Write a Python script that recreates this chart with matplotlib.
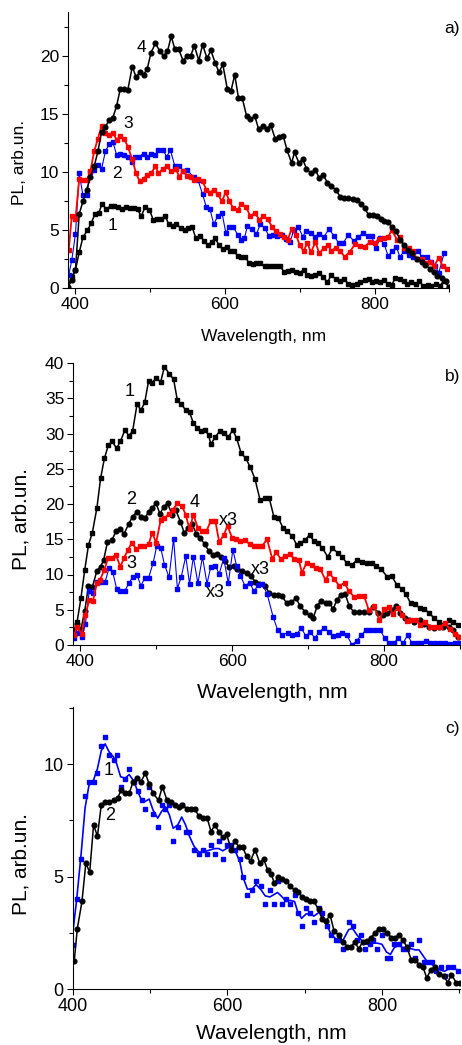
import numpy as np
import matplotlib
matplotlib.use('Agg')
import matplotlib.pyplot as plt
from matplotlib.ticker import MultipleLocator

plt.rcParams['font.family'] = ['Liberation Sans', 'DejaVu Sans']

# ---- panel a) ----
a1_wl = [389, 395, 400, 405, 410, 416, 421, 426, 431, 436, 441, 447, 452, 457, 462, 467, 473, 478, 483, 488,
         493, 499, 504, 509, 514, 520, 525, 530, 535, 541, 546, 551, 556, 561, 566, 572, 577, 582, 587, 592,
         597, 602, 607, 612, 617, 622, 627, 632, 637, 642, 647, 653, 658, 663, 668, 674, 679, 684, 689, 695,
         700, 705, 710, 715, 721, 726, 731, 737, 742, 748, 754, 759, 765, 770, 776, 781, 787, 792, 797, 802,
         807, 813, 818, 823, 828, 834, 840, 844, 849, 855, 860, 865, 871, 876, 882, 887, 893, 899]
a1_pl = [0.0, 1.0, 1.6, 3.1, 4.4, 5.0, 5.6, 6.4, 6.5, 7.3, 6.8, 7.1, 7.1, 7.0, 6.8, 7.0, 6.9, 6.9, 6.8, 6.2,
         7.0, 6.75, 5.9, 6.0, 6.0, 6.2, 5.5, 5.4, 5.5, 5.2, 5.0, 5.2, 5.3, 4.3, 4.5, 4.1, 3.7, 4.0, 4.3, 3.7,
         3.4, 3.6, 3.25, 3.2, 2.8, 2.7, 2.7, 2.2, 2.1, 2.2, 2.2, 1.9, 1.9, 1.9, 1.9, 1.9, 1.4, 1.5, 1.6, 1.4,
         1.3, 1.6, 1.15, 1.1, 1.15, 1.3, 1.0, 0.5, 1.15, 0.8, 0.6, 0.8, 0.4, 0.3, 0.4, 0.5, 0.7, 0.8, 0.5, 0.6,
         0.5, 0.7, 0.35, 0.3, 0.9, 0.8, 0.6, 0.4, 0.5, 0.35, 0.6, 0.2, 0.3, 0.2, 0.4, 0.2, 0.65, 0.15]

a2_wl = [391, 395, 400, 405, 410, 415, 420, 425, 430, 435, 440, 445, 450, 455, 460, 465, 470, 475, 480, 485,
         491, 496, 501, 507, 511, 517, 522, 527, 533, 539, 544, 549, 558, 564, 570, 575, 580, 585, 590, 596,
         601, 606, 611, 617, 622, 626, 630, 636, 642, 647, 653, 659, 664, 670, 676, 681, 687, 692, 698, 704,
         708, 715, 720, 726, 732, 739, 746, 752, 758, 765, 772, 778, 785, 791, 796, 802, 807, 813, 818, 824,
         829, 834, 840, 846, 852, 858, 864, 870, 876, 881, 886, 893]
a2_pl = [1.15, 2.4, 4.7, 9.9, 8.0, 8.0, 10.0, 10.2, 10.6, 10.3, 11.8, 12.4, 12.6, 11.5, 11.6, 11.5, 11.35, 10.9, 11.35, 11.35,
         11.6, 11.3, 11.6, 11.5, 11.9, 11.9, 11.35, 11.9, 10.5, 10.5, 10.1, 10.2, 9.6, 9.3, 8.1, 7.0, 6.8, 5.5, 6.2, 6.5,
         4.8, 5.3, 5.3, 4.6, 4.2, 4.3, 5.4, 5.1, 4.65, 5.5, 5.2, 4.5, 4.6, 4.5, 4.6, 4.25, 4.0, 5.0, 5.3, 4.45,
         4.9, 4.75, 4.45, 4.7, 4.4, 5.1, 4.5, 3.9, 3.9, 4.6, 4.1, 4.4, 4.8, 4.5, 4.5, 3.45, 4.3, 3.8, 2.8, 3.2,
         3.6, 2.7, 3.25, 2.9, 2.7, 3.2, 2.7, 2.7, 2.3, 1.9, 1.35, 3.0]

a3_wl = [391, 395, 400, 405, 410, 415, 420, 425, 430, 435, 440, 445, 450, 455, 460, 465, 470, 476, 481, 486,
         491, 496, 501, 507, 511, 517, 522, 528, 534, 539, 544, 549, 554, 559, 564, 570, 575, 580, 585, 590,
         596, 601, 606, 611, 617, 622, 628, 634, 640, 646, 651, 657, 663, 668, 673, 679, 684, 689, 695, 700,
         705, 710, 715, 721, 726, 732, 738, 742, 748, 754, 760, 767, 774, 780, 787, 794, 800, 806, 812, 818,
         823, 830, 834, 840, 846, 851, 857, 863, 869, 874, 880, 886, 891, 897]
a3_pl = [3.3, 6.2, 5.95, 9.4, 9.3, 9.3, 10.1, 11.8, 12.9, 14.0, 13.4, 13.2, 13.4, 12.8, 13.1, 12.9, 12.2, 11.1, 9.9, 9.2,
         9.4, 9.8, 9.9, 10.5, 9.9, 10.3, 10.5, 10.1, 10.3, 9.6, 10.1, 9.7, 9.6, 9.3, 9.4, 9.2, 8.5, 8.25, 8.5, 8.1,
         7.5, 8.3, 7.5, 6.9, 6.75, 7.3, 7.0, 6.2, 6.5, 5.9, 6.2, 5.95, 5.3, 4.9, 4.65, 4.45, 4.2, 5.1, 4.6, 3.7,
         3.2, 3.9, 3.1, 4.0, 3.0, 3.45, 3.7, 3.25, 3.45, 3.25, 2.7, 3.15, 3.8, 3.65, 3.6, 4.0, 3.9, 4.25, 4.3, 4.4,
         5.0, 4.2, 4.4, 3.45, 3.5, 3.2, 2.5, 2.5, 2.2, 2.3, 1.95, 2.65, 1.9, 1.7]

a4_wl = [390, 395, 400, 405, 410, 415, 420, 425, 430, 435, 440, 445, 450, 455, 460, 465, 470, 476, 481, 486,
         491, 496, 501, 507, 513, 518, 523, 528, 533, 538, 544, 549, 554, 559, 565, 570, 576, 581, 587, 592,
         597, 603, 608, 613, 618, 623, 629, 634, 640, 645, 651, 656, 661, 667, 672, 678, 683, 689, 693, 699,
         704, 709, 715, 721, 726, 731, 737, 742, 748, 754, 759, 765, 771, 776, 782, 787, 792, 798, 803, 808,
         813, 818, 823, 829, 834, 840, 845, 850, 857, 863, 868, 874, 879, 884, 890, 895, 899]
a4_pl = [0.1, 0.7, 1.6, 6.4, 7.5, 8.5, 9.6, 10.5, 11.8, 13.5, 13.9, 14.5, 14.7, 15.7, 17.2, 17.2, 17.1, 19.1, 18.2, 18.6,
         18.4, 18.9, 20.3, 21.1, 20.4, 20.0, 20.4, 21.7, 20.6, 20.6, 19.6, 20.0, 20.0, 20.9, 19.6, 21.0, 19.8, 20.5, 19.4, 18.6,
         19.3, 17.2, 17.0, 18.4, 16.4, 16.4, 14.8, 14.6, 14.8, 13.7, 14.0, 13.7, 14.1, 12.9, 13.0, 13.1, 11.9, 10.8, 11.7, 10.8,
         11.1, 10.3, 9.9, 10.2, 9.5, 9.8, 9.1, 8.8, 8.5, 7.9, 7.8, 7.8, 7.7, 7.6, 7.3, 6.9, 6.3, 6.3, 6.2, 6.0,
         5.8, 5.7, 5.3, 4.9, 4.2, 3.7, 3.3, 3.0, 2.5, 2.3, 2.0, 1.7, 1.4, 1.1, 0.9, 0.6, 0.1]

# ---- panel b) ----
b1_wl = [392, 396, 401, 406, 411, 416, 422, 427, 432, 437, 442, 448, 453, 459, 464, 469, 475, 480, 485, 490,
         495, 500, 506, 511, 517, 523, 528, 533, 539, 544, 549, 554, 559, 564, 569, 572, 578, 584, 590, 595,
         601, 606, 612, 618, 624, 630, 637, 643, 649, 655, 661, 667, 672, 679, 685, 690, 696, 702, 708, 713,
         719, 726, 732, 739, 745, 751, 758, 764, 771, 777, 784, 790, 796, 804, 810, 817, 823, 829, 835, 841,
         847, 853, 859, 866, 873, 878, 885, 891, 898]
b1_pl = [2.1, 3.3, 6.6, 10.6, 14.2, 15.9, 19.4, 23.7, 26.5, 28.3, 28.9, 27.9, 28.9, 30.5, 29.7, 30.3, 34.2, 33.3, 34.4, 37.4,
         37.2, 37.9, 37.3, 39.5, 38.5, 37.7, 34.7, 34.2, 33.3, 33.0, 31.5, 30.8, 30.3, 30.5, 29.8, 28.5, 29.5, 30.4, 30.05, 29.5,
         30.5, 29.3, 27.2, 26.5, 25.2, 23.6, 20.5, 20.8, 20.8, 18.2, 18.0, 16.6, 16.1, 15.5, 14.2, 14.5, 14.9, 15.6, 14.7, 14.5,
         13.7, 12.5, 13.7, 13.1, 12.5, 11.6, 11.4, 12.0, 11.8, 11.7, 11.6, 11.2, 10.8, 9.7, 9.8, 8.5, 8.0, 7.2, 5.9, 5.8,
         5.2, 5.1, 4.6, 3.8, 3.2, 2.8, 3.5, 3.2, 2.8]

b2_wl = [392, 396, 401, 406, 411, 416, 422, 427, 431, 436, 442, 447, 453, 458, 464, 469, 475, 480, 485, 490,
         495, 500, 505, 510, 515, 521, 526, 532, 537, 542, 547, 553, 558, 564, 569, 575, 580, 585, 591, 596,
         602, 607, 613, 619, 625, 630, 636, 643, 649, 655, 661, 666, 672, 678, 684, 690, 696, 702, 707, 712,
         717, 723, 728, 733, 738, 743, 749, 754, 760, 767, 774, 780, 786, 792, 798, 804, 810, 816, 821, 828,
         833, 840, 847, 853, 859, 866, 872, 878, 885, 891, 898]
b2_pl = [1.4, 3.0, 2.2, 4.8, 8.4, 8.2, 10.5, 11.1, 12.1, 14.6, 14.9, 16.1, 16.4, 15.8, 17.2, 18.2, 18.9, 18.2, 18.0, 18.8,
         19.5, 20.1, 18.6, 19.6, 20.1, 18.5, 19.1, 17.5, 15.9, 16.6, 17.2, 15.8, 15.2, 14.3, 13.4, 12.7, 12.9, 12.5, 11.9, 11.0,
         11.2, 10.8, 10.5, 10.2, 9.8, 9.0, 8.7, 8.4, 7.4, 7.1, 7.1, 6.9, 5.9, 6.1, 6.6, 5.5, 4.7, 4.2, 3.9, 5.5,
         6.3, 5.9, 6.0, 5.1, 6.4, 7.1, 7.2, 5.6, 4.7, 4.7, 4.7, 4.7, 5.4, 4.6, 4.3, 4.5, 5.0, 5.5, 4.5, 3.8,
         3.6, 3.2, 3.6, 3.0, 2.5, 2.4, 2.5, 2.6, 2.6, 2.1, 1.2]

b3_wl = [392, 396, 402, 407, 412, 417, 422, 427, 433, 438, 443, 448, 453, 459, 464, 469, 475, 480, 485, 490,
         496, 501, 506, 511, 517, 523, 528, 533, 539, 544, 549, 555, 561, 567, 572, 578, 583, 589, 595, 601,
         606, 611, 617, 623, 629, 634, 640, 646, 654, 660, 666, 673, 679, 685, 691, 697, 703, 709, 715, 721,
         727, 733, 739, 745, 751, 758, 764, 770, 776, 782, 788, 795, 801, 807, 813, 819, 825, 831, 837, 843,
         849, 855, 861, 867, 874, 880, 887, 893, 900]
b3_pl = [0.95, 1.65, 1.2, 3.0, 7.7, 7.4, 9.0, 9.0, 9.0, 10.9, 10.3, 8.0, 7.7, 7.7, 8.75, 9.6, 9.9, 8.4, 9.5, 9.5,
         11.6, 14.1, 13.8, 11.4, 9.6, 15.1, 8.0, 9.6, 12.6, 8.7, 12.5, 8.75, 12.5, 8.7, 11.1, 11.2, 10.1, 12.3, 8.75, 13.5,
         11.2, 9.8, 8.4, 8.85, 7.6, 8.5, 8.6, 7.3, 4.0, 2.1, 1.4, 1.75, 1.4, 1.5, 2.4, 1.3, 1.8, 1.0, 1.9, 2.4,
         1.9, 1.3, 1.4, 1.65, 1.4, 0.0, 0.6, 1.4, 2.1, 2.1, 2.1, 2.1, 0.95, 0.25, 0.35, 0.95, 0.25, 1.4, 0.25, 0.25,
         0.35, 0.6, 0.35, 0.35, 0.35, 0.25, 0.1, 0.35, 0.35]

b4_wl = [392, 396, 402, 407, 412, 417, 422, 426, 432, 437, 442, 447, 453, 458, 463, 468, 474, 479, 484, 490,
         495, 500, 506, 511, 517, 522, 528, 534, 539, 544, 549, 555, 560, 566, 572, 578, 583, 589, 594, 600,
         605, 611, 617, 623, 629, 634, 640, 646, 653, 658, 664, 670, 676, 682, 688, 692, 698, 705, 711, 716,
         723, 728, 734, 741, 748, 754, 761, 767, 774, 780, 787, 794, 800, 806, 812, 818, 824, 830, 836, 842,
         848, 854, 861, 867, 874, 880, 887, 894, 899]
b4_pl = [1.4, 2.6, 1.6, 4.3, 6.4, 6.3, 8.75, 9.2, 10.7, 12.4, 12.4, 12.8, 11.1, 12.4, 13.5, 14.5, 13.6, 14.0, 14.0, 14.3,
         15.9, 14.5, 17.7, 18.0, 18.6, 19.2, 20.1, 19.7, 18.5, 16.4, 18.5, 16.6, 16.2, 16.1, 17.6, 17.6, 14.6, 15.6, 16.9, 15.2,
         15.0, 14.7, 14.9, 14.3, 14.1, 14.1, 14.1, 15.0, 12.2, 13.2, 12.2, 12.6, 12.9, 12.2, 12.0, 10.2, 11.7, 11.4, 10.9, 10.8,
         9.2, 10.2, 9.4, 8.4, 8.8, 7.6, 6.8, 6.9, 6.9, 4.9, 5.5, 3.5, 5.1, 5.4, 4.4, 5.3, 4.2, 3.4, 3.6, 3.6,
         2.9, 3.2, 2.6, 2.6, 2.5, 3.1, 2.2, 1.6, 1.2]

# ---- panel c) ----
c1_wl = [400, 405, 411, 416, 421, 427, 432, 437, 442, 447, 453, 457, 462, 468, 473, 479, 484, 489, 494, 499,
         504, 510, 515, 520, 525, 530, 536, 541, 546, 551, 557, 563, 568, 574, 579, 584, 589, 594, 599, 605,
         610, 616, 620, 626, 632, 637, 643, 649, 655, 660, 665, 671, 676, 681, 687, 691, 696, 702, 707, 712,
         718, 723, 729, 734, 740, 745, 750, 757, 762, 768, 773, 778, 784, 789, 794, 800, 806, 811, 816, 822,
         827, 832, 838, 843, 848, 854, 859, 865, 870, 876, 881, 886, 892, 898]
c1_pl = [1.97, 4.0, 5.8, 8.6, 9.2, 9.2, 9.6, 10.8, 11.2, 10.4, 10.2, 10.4, 9.0, 9.35, 9.8, 9.2, 8.8, 8.4, 8.0, 9.0,
         7.8, 7.2, 8.2, 8.0, 8.2, 6.6, 7.2, 8.2, 7.0, 7.0, 6.2, 6.0, 6.2, 6.0, 6.4, 6.0, 6.6, 5.8, 6.4, 6.4,
         6.2, 5.8, 5.0, 4.2, 4.4, 4.8, 4.6, 3.8, 4.4, 3.8, 4.8, 3.8, 4.0, 3.8, 4.2, 3.4, 2.8, 3.6, 3.4, 3.0,
         3.6, 3.4, 2.8, 2.4, 2.2, 2.2, 1.8, 3.0, 2.8, 2.2, 2.4, 1.8, 2.0, 2.2, 1.8, 2.4, 1.4, 1.4, 2.0, 2.0,
         1.8, 1.8, 2.0, 1.4, 2.2, 1.2, 1.2, 1.2, 0.8, 1.0, 0.6, 1.0, 1.0, 0.8]

c2_wl = [402, 406, 412, 417, 422, 427, 432, 437, 442, 447, 453, 458, 463, 468, 473, 478, 483, 488, 494, 499,
         504, 511, 516, 522, 527, 532, 537, 542, 548, 553, 558, 563, 568, 574, 579, 584, 589, 594, 599, 605,
         610, 615, 620, 625, 630, 636, 642, 647, 652, 657, 661, 666, 671, 676, 681, 687, 692, 697, 702, 707,
         712, 718, 723, 728, 733, 738, 744, 750, 755, 760, 765, 770, 775, 781, 786, 791, 796, 801, 807, 812,
         817, 822, 827, 832, 838, 843, 848, 853, 858, 863, 869, 874, 880, 885, 890, 896, 901]
c2_pl = [1.27, 2.7, 3.9, 5.6, 5.2, 7.3, 6.8, 8.2, 8.3, 8.3, 8.4, 8.5, 8.85, 8.7, 8.7, 9.2, 9.4, 9.2, 9.6, 9.1,
         8.7, 8.4, 9.0, 8.4, 8.3, 8.2, 8.1, 8.2, 8.0, 8.0, 8.0, 7.7, 7.6, 7.6, 7.0, 7.3, 7.0, 6.75, 6.9, 6.2,
         6.6, 6.3, 6.3, 5.9, 5.7, 6.2, 5.6, 5.8, 5.3, 5.1, 4.7, 5.0, 4.9, 4.8, 4.6, 4.4, 4.3, 4.1, 4.0, 3.9,
         3.9, 3.55, 3.1, 3.05, 3.3, 2.6, 2.4, 2.1, 1.9, 1.9, 2.1, 1.8, 2.1, 2.15, 2.3, 2.5, 2.7, 2.7, 2.5, 2.3,
         2.3, 2.4, 2.2, 1.9, 1.3, 1.3, 1.1, 1.0, 0.5, 0.85, 1.0, 0.7, 0.6, 0.3, 0.65, 0.3, 0.27]

W, H = 462, 1045
fig = plt.figure(figsize=(W / 100, H / 100), dpi=100)


def make_axes(l, r, b, t):
    ax = fig.add_axes([l / W, 1 - b / H, (r - l) / W, (b - t) / H])
    ax.spines['top'].set_visible(False)
    ax.spines['right'].set_visible(False)
    ax.tick_params(which='major', direction='out', length=4.5, width=0.8)
    ax.tick_params(which='minor', direction='out', length=3, width=0.8)
    ax.xaxis.set_major_locator(MultipleLocator(200))
    ax.xaxis.set_minor_locator(MultipleLocator(100))
    ax.yaxis.set_minor_locator(MultipleLocator(2.5))
    return ax


def style_labels(ax, fs_tick, fs_lab, xl, yl):
    ax.tick_params(labelsize=fs_tick, pad=2)
    ax.set_xlabel('Wavelength, nm', fontsize=fs_lab, va='center')
    ax.set_ylabel('PL, arb.un.', fontsize=fs_lab, va='center')
    ax.xaxis.set_label_coords(*xl)
    ax.yaxis.set_label_coords(*yl)


# panel a
ax = make_axes(68, 449.3, 288.3, 12)
ax.plot(a1_wl, a1_pl, '-s', color='black', lw=1.1, ms=3.0)
ax.plot(a2_wl, a2_pl, '-s', color='#0000ff', lw=0.8, ms=3.2)
ax.plot(a3_wl, a3_pl, '-s', color='#ff0000', lw=1.3, ms=3.4)
ax.plot(a4_wl, a4_pl, '-o', color='black', lw=1.1, ms=3.4)
ax.set_xlim(390, 900)
ax.set_ylim(0, 23.8)
ax.yaxis.set_major_locator(MultipleLocator(5))
style_labels(ax, 12.5, 12.5, (0.514, -0.173), (-0.126, 0.457))
for s, x, y in [('4', 488, 20.7), ('3', 470, 14.2), ('2', 456, 9.9), ('1', 450, 5.4)]:
    ax.text(x, y, s, fontsize=12.5, ha='center', va='center')
fig.text(460 / W, 1 - 28 / H, 'a)', fontsize=12.5, ha='right', va='center')

# panel b
ax = make_axes(73.3, 460, 645, 363)
ax.plot(b1_wl, b1_pl, '-s', color='black', lw=1.1, ms=3.0)
ax.plot(b2_wl, b2_pl, '-o', color='black', lw=1.1, ms=3.4)
ax.plot(b3_wl, b3_pl, '-s', color='#0000ff', lw=0.8, ms=3.2)
ax.plot(b4_wl, b4_pl, '-s', color='#ff0000', lw=1.3, ms=3.4)
ax.set_xlim(391, 900)
ax.set_ylim(0, 40)
ax.yaxis.set_major_locator(MultipleLocator(5))
style_labels(ax, 12.5, 15, (0.515, -0.167), (-0.136, 0.447))
for s, x, y in [('1', 465, 36.0), ('2', 467, 20.7), ('4', 551, 20.2), ('x3', 595, 17.6),
                ('3', 467, 11.6), ('x3', 637, 10.75), ('x3', 578, 7.5)]:
    ax.text(x, y, s, fontsize=13, ha='center', va='center')
fig.text(460 / W, 1 - 377 / H, 'b)', fontsize=12.5, ha='right', va='center')

# panel c
ax = make_axes(72.7, 460, 989.3, 706.7)
c1_smooth = np.convolve(np.pad(np.array(c1_pl), 1, mode='edge'), [0.25, 0.5, 0.25], mode='valid')
ax.plot(c1_wl, c1_smooth, '-', color='#0000ff', lw=1.2)
ax.plot(c1_wl, c1_pl, 's', color='#0000ff', ms=3.4)
ax.plot(c2_wl, c2_pl, '-o', color='black', lw=1.1, ms=3.4)
ax.set_xlim(400, 901)
ax.set_ylim(0, 12.55)
ax.yaxis.set_major_locator(MultipleLocator(5))
style_labels(ax, 13, 15, (0.514, -0.155), (-0.134, 0.443))
for s, x, y in [('1', 446, 9.7), ('2', 448, 7.7)]:
    ax.text(x, y, s, fontsize=13, ha='center', va='center')
fig.text(460 / W, 1 - 728 / H, 'c)', fontsize=12.5, ha='right', va='center')

fig.savefig('out.png', dpi=100)
